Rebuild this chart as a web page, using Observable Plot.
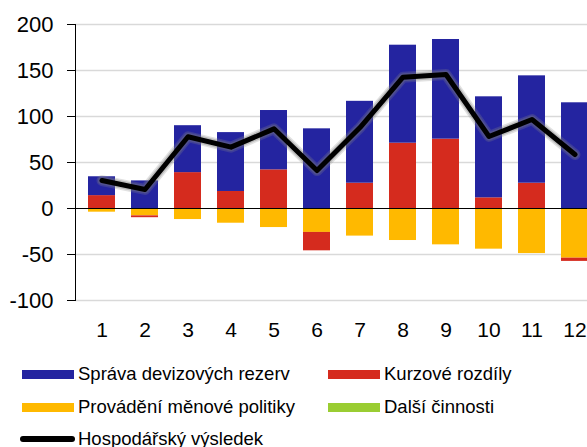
<!DOCTYPE html>
<html>
<head>
<meta charset="utf-8">
<script src="https://cdn.jsdelivr.net/npm/d3@7"></script>
<script src="https://cdn.jsdelivr.net/npm/@observablehq/plot@0.6"></script>
<style>
  html, body { margin: 0; padding: 0; background: #fff; overflow: hidden; }
  #wrap { position: relative; width: 587px; height: 447px; overflow: hidden; font-family: "Liberation Sans", Arial, sans-serif; color: #000; }
  #chart { position: absolute; left: 0; top: 0; width: 600px; height: 345px; }
  #chart svg { max-width: none !important; width: 600px !important; height: 345px !important; }
  .leg { position: absolute; display: flex; align-items: center; font-size: 18.5px; white-space: nowrap; height: 22px; }
  .sw { width: 52px; height: 9px; margin-right: 4px; }
  .ln { width: 55px; height: 6px; border-radius: 3px; background: #000; margin-right: 3px; }
</style>
</head>
<body>
<div id="wrap">
  <div id="chart"></div>
  <div class="leg" style="left:22px; top:363px;"><div class="sw" style="background:#2424A0"></div>Správa devizových rezerv</div>
  <div class="leg" style="left:328px; top:363px;"><div class="sw" style="background:#D52B1E"></div>Kurzové rozdíly</div>
  <div class="leg" style="left:22px; top:396px;"><div class="sw" style="background:#FFB900"></div>Provádění měnové politiky</div>
  <div class="leg" style="left:328px; top:396px;"><div class="sw" style="background:#9ACD32"></div>Další činnosti</div>
  <div class="leg" style="left:20px; top:428px;"><div class="ln"></div>Hospodářský výsledek</div>
</div>
<script>
const months = [1, 2, 3, 4, 5, 6, 7, 8, 9, 10, 11, 12];
const seriesNames = ["Provádění měnové politiky", "Kurzové rozdíly", "Správa devizových rezerv", "Další činnosti"];
const seriesColors = ["#FFB900", "#D52B1E", "#2424A0", "#9ACD32"];
const sprava = [20.5, 30, 51, 64, 64.5, 86.6, 89, 106.5, 108.3, 109.8, 116.7, 114.9];
const kurzove = [14, -2, 39, 18.5, 42, -20, 27.5, 71, 75.4, 11.6, 27.5, -3.5];
const provadeni = [-4, -8, -12, -16, -20.7, -26, -30, -34.8, -39.5, -44.2, -49, -54];
const dalsi = [0, 0, 0, 0, 0, 0, 0, 0, 0, 0, 0, 0];
const vysledek = [30.4, 20.7, 78, 66.7, 86.6, 41.3, 88, 142.7, 145.6, 78.3, 96.7, 58.7];
const yTicks = [-100, -50, 0, 50, 100, 150, 200];

const seriesValues = [provadeni, kurzove, sprava, dalsi];
const table = [];
seriesNames.forEach((name, s) => {
  months.forEach((m, i) => table.push({month: m, series: name, value: seriesValues[s][i]}));
});
const lineData = months.map((m, i) => ({month: m, value: vysledek[i]}));

const chart = Plot.plot({
  width: 600,
  height: 345,
  marginTop: 24,
  marginBottom: 45,
  marginLeft: 75,
  marginRight: 0,
  style: {fontFamily: "Liberation Sans, Arial, sans-serif", color: "#000", background: "#fff", overflow: "visible"},
  x: {type: "band", domain: months, paddingInner: 0.375, paddingOuter: 0.1875, label: null},
  y: {domain: [-100, 200], label: null},
  color: {domain: seriesNames, range: seriesColors},
  marks: [
    Plot.gridY(yTicks.filter(d => d !== 0), {stroke: "#d9d9d9", strokeOpacity: 1, strokeWidth: 1.5}),
    Plot.barY(table, {x: "month", y: "value", fill: "series", order: seriesNames, inset: 0}),
    Plot.ruleY([0], {stroke: "#000", strokeWidth: 1}),
    Plot.frame({anchor: "left", stroke: "#000", strokeWidth: 1}),
    Plot.axisY({ticks: yTicks, tickSize: 8, tickPadding: 14, fontSize: 22, tickFormat: d => String(d), stroke: "#000"}),
    Plot.axisX({tickSize: 0, tickPadding: 22, fontSize: 21, tickFormat: d => String(d)}),
    Plot.line(lineData, {x: "month", y: "value", stroke: "#888", strokeWidth: 11, strokeOpacity: 0.25}),
    Plot.line(lineData, {x: "month", y: "value", stroke: "#777", strokeWidth: 8, strokeOpacity: 0.35}),
    Plot.line(lineData, {x: "month", y: "value", stroke: "#000", strokeWidth: 5})
  ]
});
document.getElementById("chart").appendChild(chart);
</script>
</body>
</html>
